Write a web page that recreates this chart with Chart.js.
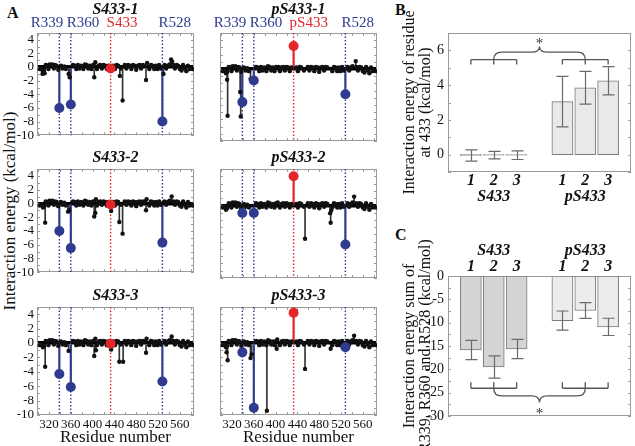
<!DOCTYPE html>
<html>
<head>
<meta charset="utf-8">
<script src="https://cdn.jsdelivr.net/npm/chart.js@4.4.0/dist/chart.umd.min.js"></script>
<style>
  html, body { margin: 0; padding: 0; background: #fff; }
  #wrap { position: relative; width: 635px; height: 446px; overflow: hidden; font-family: 'Liberation Serif', serif; }
  canvas { position: absolute; }
  .letter { position: absolute; font: bold 16px 'Liberation Serif', serif; line-height: 16px; color: #111; }
  #ylabA { position: absolute; left: 10px; top: 211px; transform: translate(-50%, -50%) rotate(-90deg);
           white-space: nowrap; font: 17px 'Liberation Serif', serif; color: #111; }
</style>
</head>
<body>
<div id="wrap">
  <div class="letter" style="left:7px;top:5px">A</div>
  <div class="letter" style="left:395px;top:2px">B</div>
  <div class="letter" style="left:395px;top:227px">C</div>
  <div id="ylabA">Interaction energy (kcal/mol)</div>
</div>
<script>
const SERIF = "'Liberation Serif', serif";
const BLUE = '#2e3b8f';
const RED = '#e3262a';

// ---- panel A: per-residue interaction energy ----
const residueTicks = [300, 320, 340, 360, 380, 400, 420, 440, 460, 480, 500, 520, 540, 560, 580];
const residueLabels = [320, 360, 400, 440, 480, 520, 560];
const energyTicks = [-10, -9, -8, -7, -6, -5, -4, -3, -2, -1, 0, 1, 2, 3, 4, 5];
const energyLabels = [-10, -8, -6, -4, -2, 0, 2, 4];

const keyResidues = [339, 360, 433, 528];
const namesS433 = ['R339', 'R360', 'S433', 'R528'];
const namesPS433 = ['R339', 'R360', 'pS433', 'R528'];

// small contributions scattered around zero
const minorResidues = [303, 306, 309, 311, 314, 317, 319, 321, 324, 326,
  329, 331, 334, 337, 342, 345, 348, 351, 364, 367,
  370, 373, 376, 379, 383, 386, 389, 392, 395, 398,
  401, 408, 411, 414, 417, 420, 423, 426, 429, 438,
  441, 444, 447, 452, 459, 462, 465, 468, 471, 474,
  477, 480, 483, 486, 489, 492, 495, 504, 507, 510,
  513, 516, 519, 522, 525, 532, 535, 538, 541, 548,
  551, 554, 557, 560, 563, 566, 569, 572, 575, 578,
  581, 584];
const minorEnergies = [-0.3, -0.2, -0.6, -0.4, 0.3, 0.2, -0.3, 0.4, 0.3, 0.4,
  -0.2, 0.3, 0.2, -0.4, 0.2, -0.2, 0.1, -0.3, 0.3, 0.2,
  -0.3, 0.3, -0.2, 0.2, -0.3, 0.4, 0.3, -0.2, 0.2, -0.3,
  0.3, -0.3, 0.2, 0.3, -0.2, 0.3, 0.2, -0.3, 0.2, 0.2,
  -0.3, 0.3, 0.2, -0.2, 0.3, -0.2, 0.3, 0.2, -0.3, 0.3,
  0.2, -0.4, 0.2, 0.3, -0.2, 0.3, 0.2, -0.3, 0.3, 0.2,
  -0.3, 0.2, -0.3, 0.3, -0.2, 0.3, -0.2, 0.2, 0.4, 0.3,
  -0.2, 0.3, 0.2, -0.3, -0.5, 0.3, -0.2, -0.6, 0.2, -0.3,
  -0.2, -0.3];

// energies of R339, R360, (p)S433, R528 in each run
const s433Run1Key = [-6.0, -5.5, -0.2, -8.0];
const s433Run2Key = [-4.0, -6.5, -0.15, -5.7];
const s433Run3Key = [-4.3, -6.1, -0.1, -5.35];
const ps433Run1Key = [-4.6, -1.6, 3.2, -3.5];
const ps433Run2Key = [-1.05, -1.05, 4.0, -5.4];
const ps433Run3Key = [-1.3, -9.0, 4.2, -0.6];

// other residues with noticeable energies [residue, energy]
const s433Run1Other = [[308, -1.0], [310, -0.8], [312, -0.9], [356, -1.0], [358, -1.5], [403, -1.5],
  [405, 0.7], [450, -1.3], [455, -4.9], [498, -1.9], [500, 0.6], [530, -1.0], [544, 1.1], [546, 0.8]];
const s433Run2Other = [[313, -2.8], [355, -1.2], [357, -1.0], [403, -1.9], [405, -1.4], [406, 0.6],
  [434, -1.1], [449, -2.7], [455, -4.4], [498, -1.0], [499, 0.6], [545, 1.0]];
const s433Run3Other = [[313, -3.3], [356, -1.1], [403, -1.8], [406, -1.0], [405, 0.6], [434, -0.9],
  [449, -2.6], [456, -2.6], [498, -1.35], [499, 0.6], [545, 0.9]];
const ps433Run1Other = [[311, -1.5], [312, -6.5], [335, -3.2], [336, -6.6], [354, -1.4], [405, 0.3], [547, 1.1]];
const ps433Run2Other = [[404, 0.4], [454, -4.6], [500, -1.1], [501, -2.4], [502, -0.7], [544, 1.2]];
const ps433Run3Other = [[310, -1.3], [312, -2.4], [354, -2.1], [356, -1.6], [384, -9.4], [402, -0.8],
  [403, 0.5], [454, -3.6], [501, -0.8], [544, 1.0]];

// ---- panels B and C ----
const runLabels = ['1', '2', '3'];
const groupNames = ['S433', 'pS433'];
const at433Mean = { S433: [-0.05, -0.03, -0.03], pS433: [3.05, 3.85, 4.25] };
const at433Err = { S433: [0.32, 0.22, 0.25], pS433: [1.45, 0.94, 0.81] };
const argSumMean = { S433: [-15.85, -19.5, -15.65], pS433: [-9.55, -7.4, -10.9] };
const argSumErr = { S433: [2.05, 2.4, 2.05], pS433: [2.05, 1.7, 1.85] };
const at433Ticks = [-1, 0, 1, 2, 3, 4, 5, 6, 7];
const at433Labels = [0, 2, 4, 6];
const argSumTicks = [-30, -27.5, -25, -22.5, -20, -17.5, -15, -12.5, -10, -7.5, -5, -2.5, 0];
const argSumLabels = [-30, -25, -20, -15, -10, -5, 0];

// ---- plugins ----
const framePlugin = {
  id: 'frame',
  beforeDatasetsDraw(chart, args, o) {
    if (!o.on) return;
    const {ctx, chartArea: a, scales: {x, y}} = chart;
    ctx.save();
    ctx.strokeStyle = '#9a9a9a';
    ctx.lineWidth = 1;
    ctx.strokeRect(Math.round(a.left) + 0.5, Math.round(a.top) + 0.5,
      Math.round(a.right - a.left) - 1, Math.round(a.bottom - a.top) - 1);
    ctx.beginPath();
    (o.yTicks || []).forEach(v => {
      const p = Math.round(y.getPixelForValue(v)) + 0.5;
      ctx.moveTo(a.left, p); ctx.lineTo(a.left + 3, p);
      ctx.moveTo(a.right, p); ctx.lineTo(a.right - 3, p);
    });
    (o.xTicks || []).forEach(v => {
      const p = Math.round(x.getPixelForValue(v)) + 0.5;
      ctx.moveTo(p, a.top); ctx.lineTo(p, a.top + 3);
      ctx.moveTo(p, a.bottom); ctx.lineTo(p, a.bottom - 3);
    });
    ctx.stroke();
    ctx.restore();
  }
};

const residueDeco = {
  id: 'residueDeco',
  beforeDatasetsDraw(chart, args, o) {
    if (!o.names) return;
    const {ctx, chartArea: a, scales: {x}} = chart;
    ctx.save();
    ctx.setLineDash([1.5, 2]);
    ctx.lineWidth = 1.4;
    keyResidues.forEach((r, i) => {
      const p = x.getPixelForValue(r);
      ctx.strokeStyle = o.colors[i];
      ctx.beginPath(); ctx.moveTo(p, a.top); ctx.lineTo(p, a.bottom); ctx.stroke();
    });
    ctx.restore();
  },
  afterDraw(chart, args, o) {
    if (!o.names) return;
    const {ctx, chartArea: a, scales: {x}} = chart;
    ctx.save();
    ctx.textBaseline = 'middle';
    ctx.textAlign = 'center';
    ctx.fillStyle = '#111';
    ctx.font = `italic bold 16px ${SERIF}`;
    ctx.fillText(o.title, (a.left + a.right) / 2, a.top - o.titleGap);
    if (o.showNames) {
      ctx.font = `15px ${SERIF}`;
      keyResidues.forEach((r, i) => {
        const p = x.getPixelForValue(r);
        ctx.fillStyle = o.colors[i];
        if (i === 0) { ctx.textAlign = 'right'; ctx.fillText(o.names[i], p + 4, a.top - 10); }
        else { ctx.textAlign = 'left'; ctx.fillText(o.names[i], p - 4, a.top - 10); }
      });
    }
    ctx.restore();
  }
};

const errorBars = {
  id: 'errorBars',
  afterDatasetsDraw(chart, args, o) {
    if (!o.errors) return;
    const {ctx, scales: {x, y}} = chart;
    const vals = chart.data.datasets[0].data;
    ctx.save();
    ctx.strokeStyle = '#6a6a6a';
    ctx.lineWidth = 1.2;
    ctx.beginPath();
    o.errors.forEach((e, i) => {
      if (e == null) return;
      const px = Math.round(x.getPixelForValue(i)) + 0.5;
      const hi = y.getPixelForValue(vals[i] + e), lo = y.getPixelForValue(vals[i] - e);
      ctx.moveTo(px, hi); ctx.lineTo(px, lo);
      ctx.moveTo(px - 6, hi); ctx.lineTo(px + 6, hi);
      ctx.moveTo(px - 6, lo); ctx.lineTo(px + 6, lo);
    });
    ctx.stroke();
    ctx.restore();
  }
};

const groupBrace = {
  id: 'groupBrace',
  afterDatasetsDraw(chart, args, o) {
    if (!o.left) return;
    const {ctx, scales: {x, y}} = chart;
    const yb = y.getPixelForValue(o.bar), yt = y.getPixelForValue(o.tick);
    const ym = y.getPixelForValue(o.brace), yp = y.getPixelForValue(o.peak);
    ctx.save();
    ctx.strokeStyle = '#555';
    ctx.lineWidth = 1.3;
    ctx.beginPath();
    [o.left, o.right].forEach(g => {
      ctx.moveTo(x.getPixelForValue(g[0]), yb); ctx.lineTo(x.getPixelForValue(g[g.length - 1]), yb);
      g.forEach(i => { const p = x.getPixelForValue(i); ctx.moveTo(p, yb); ctx.lineTo(p, yt); });
    });
    const x1 = x.getPixelForValue(o.left[1]), x2 = x.getPixelForValue(o.right[1]);
    const xc = x.getPixelForValue(o.mid), k = 8;
    ctx.moveTo(x1, yb);
    ctx.quadraticCurveTo(x1, ym, x1 + k, ym);
    ctx.lineTo(xc - k, ym);
    ctx.quadraticCurveTo(xc, ym, xc, yp);
    ctx.quadraticCurveTo(xc, ym, xc + k, ym);
    ctx.lineTo(x2 - k, ym);
    ctx.quadraticCurveTo(x2, ym, x2, yb);
    ctx.stroke();
    ctx.fillStyle = '#333';
    ctx.font = `15px ${SERIF}`;
    ctx.textAlign = 'center';
    ctx.textBaseline = 'middle';
    ctx.fillText('*', xc, y.getPixelForValue(o.star) + 3);
    ctx.restore();
  }
};

Chart.register(framePlugin, residueDeco, errorBars, groupBrace);

function addCanvas(left, top, width, height) {
  const c = document.createElement('canvas');
  c.width = width; c.height = height;
  c.style.left = left + 'px'; c.style.top = top + 'px';
  document.getElementById('wrap').appendChild(c);
  return c;
}

function residuePanel(col, row, title, names, key, other) {
  const frameLeft = [37, 220][col];
  const frameTop = [33, 169, 307][row];
  const frameH = [109, 110, 108][row];
  const lastRow = row === 2;
  const canvas = addCanvas(frameLeft - 36, frameTop - 34, 199, 34 + frameH + (lastRow ? 34 : 4));
  const minorPts = minorResidues.map((r, i) => ({x: r, y: minorEnergies[i]}))
    .concat(other.map(p => ({x: p[0], y: p[1]})));
  const keyPts = keyResidues.map((r, i) => ({x: r, y: key[i]}));
  const colors = names.map(n => n.indexOf('433') >= 0 ? RED : BLUE);

  new Chart(canvas, {
    type: 'scatter',
    data: {
      datasets: [
        {data: keyPts, pointRadius: 5, pointBackgroundColor: colors, pointBorderWidth: 0, order: 0},
        {data: minorPts, pointRadius: 2.2, pointBackgroundColor: '#111', pointBorderWidth: 0, order: 1},
        {type: 'bar', data: keyPts, backgroundColor: colors, barThickness: 1.5, grouped: false, order: 2},
        {type: 'bar', data: minorPts, backgroundColor: '#333', barThickness: 1, grouped: false, order: 3}
      ]
    },
    options: {
      responsive: false,
      animation: false,
      events: [],
      layout: {padding: {left: 0, top: 34, right: 6, bottom: lastRow ? 0 : 4}},
      plugins: {
        legend: {display: false},
        tooltip: {enabled: false},
        frame: {on: true, xTicks: residueTicks, yTicks: energyTicks},
        residueDeco: {names: names, colors: colors, title: title, showNames: row === 0, titleGap: row === 0 ? 23 : 11}
      },
      scales: {
        x: {
          type: 'linear', min: 298, max: 586, display: lastRow, offset: false,
          afterBuildTicks: s => { s.ticks = residueTicks.map(v => ({value: v})); },
          afterFit: s => { if (lastRow) s.height = 34; },
          grid: {display: false, drawTicks: false},
          border: {display: false},
          ticks: {font: {family: SERIF, size: 13}, color: '#111', padding: 2, maxRotation: 0, autoSkip: false,
                  callback: v => residueLabels.includes(v) ? String(v) : ''},
          title: {display: true, text: 'Residue number', font: {family: SERIF, size: 17}, color: '#111',
                  padding: {top: 0, bottom: 1}}
        },
        y: {
          min: -10, max: 5,
          afterBuildTicks: s => { s.ticks = energyTicks.map(v => ({value: v})); },
          afterFit: s => { s.width = 36; },
          grid: {color: c => (c.tick && c.tick.value === 0) ? '#000' : 'rgba(0,0,0,0)', lineWidth: 3.5, drawTicks: false},
          border: {display: false},
          ticks: {display: col === 0, font: {family: SERIF, size: 13}, color: '#111', padding: 3, autoSkip: false,
                  callback: v => energyLabels.includes(v) ? String(v) : ''}
        }
      }
    }
  });
}

residuePanel(0, 0, 'S433-1', namesS433, s433Run1Key, s433Run1Other);
residuePanel(1, 0, 'pS433-1', namesPS433, ps433Run1Key, ps433Run1Other);
residuePanel(0, 1, 'S433-2', namesS433, s433Run2Key, s433Run2Other);
residuePanel(1, 1, 'pS433-2', namesPS433, ps433Run2Key, ps433Run2Other);
residuePanel(0, 2, 'S433-3', namesS433, s433Run3Key, s433Run3Other);
residuePanel(1, 2, 'pS433-3', namesPS433, ps433Run3Key, ps433Run3Other);

// slots: gap, run1..3 of S433, gap, run1..3 of pS433, gap
function slotLabels(groupFirst) {
  const labels = [''];
  groupNames.forEach((g, gi) => {
    runLabels.forEach((r, i) => labels.push(i === 1 ? (groupFirst ? [g, r] : [r, g]) : r));
    labels.push('');
  });
  return labels;
}
function slotValues(byGroup) {
  return [null, ...byGroup.S433, null, ...byGroup.pS433, null];
}

function groupBarPanel(o) {
  const canvas = addCanvas(398, o.top, 237, o.height);
  const fills = [null, ...runLabels.map(() => o.fillS), null, ...runLabels.map(() => o.fillP), null];
  const edges = [null, ...runLabels.map(() => o.edgeS), null, ...runLabels.map(() => '#7a7a7a'), null];
  new Chart(canvas, {
    type: 'bar',
    data: {
      labels: slotLabels(o.axisTop),
      datasets: [{
        data: slotValues(o.mean),
        backgroundColor: fills,
        borderColor: edges,
        borderWidth: 1,
        borderSkipped: false,
        barThickness: 21
      }]
    },
    options: {
      responsive: false,
      animation: false,
      events: [],
      layout: {padding: o.padding},
      plugins: {
        legend: {display: false},
        tooltip: {enabled: false},
        frame: {on: true, yTicks: o.yTicks},
        errorBars: {errors: slotValues(o.err)},
        groupBrace: Object.assign({left: [1, 2, 3], right: [5, 6, 7], mid: 4}, o.brace)
      },
      scales: {
        x: {
          type: 'category', position: o.axisTop ? 'top' : 'bottom', offset: false,
          afterFit: s => { s.height = o.axisH; },
          grid: {display: false, offset: false, drawTicks: false},
          border: {display: false},
          ticks: {font: {family: SERIF, size: 16, weight: 'bold', style: 'italic', lineHeight: 1}, color: '#111',
                  padding: 1, autoSkip: false, maxRotation: 0}
        },
        y: {
          min: o.yTicks[0], max: o.yTicks[o.yTicks.length - 1],
          afterBuildTicks: s => { s.ticks = o.yTicks.map(v => ({value: v})); },
          afterFit: s => { s.width = 50; },
          grid: {display: false, drawTicks: false},
          border: {display: false},
          ticks: {font: {family: SERIF, size: 14}, color: '#111', padding: 4, autoSkip: false,
                  callback: v => o.yLabels.includes(v) ? String(v) : ''},
          title: {display: true, text: o.yTitle, color: '#111',
                  font: {family: SERIF, size: 16, lineHeight: 1}, padding: {top: 4, bottom: 0}}
        }
      }
    }
  });
}

groupBarPanel({
  top: 0, height: 215, axisTop: false, axisH: 40,
  padding: {left: 0, top: 33, right: 4, bottom: 3},
  mean: at433Mean, err: at433Err, fillS: '#9a9a9a', edgeS: '#5e5e5e', fillP: '#e9e9e9',
  yTicks: at433Ticks, yLabels: at433Labels,
  yTitle: ['Interaction energy of residue', 'at 433 (kcal/mol)'],
  brace: {bar: 5.47, tick: 5.18, brace: 5.9, peak: 6.23, star: 6.55}
});

groupBarPanel({
  top: 240, height: 206, axisTop: true, axisH: 36,
  padding: {left: 0, top: 0, right: 4, bottom: 30},
  mean: argSumMean, err: argSumErr, fillS: '#d4d4d4', edgeS: '#7a7a7a', fillP: '#ececec',
  yTicks: argSumTicks, yLabels: argSumLabels,
  yTitle: ['Interaction energy sum of', 'R339, R360 and R528 (kcal/mol)'],
  brace: {bar: -24.05, tick: -22.75, brace: -25.7, peak: -27.1, star: -28.9}
});
</script>
</body>
</html>
